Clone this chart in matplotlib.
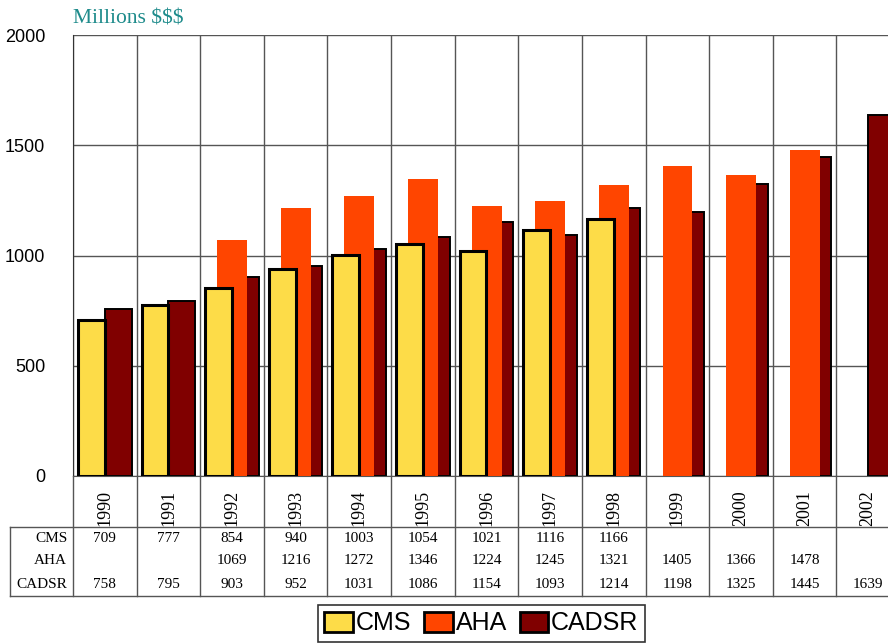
import matplotlib.pyplot as plt
from matplotlib.patches import Patch
import numpy as np

years = ['1990', '1991', '1992', '1993', '1994', '1995', '1996',
         '1997', '1998', '1999', '2000', '2001', '2002']
cms = [709, 777, 854, 940, 1003, 1054, 1021, 1116, 1166, None, None, None, None]
aha = [None, None, 1069, 1216, 1272, 1346, 1224, 1245, 1321, 1405, 1366, 1478, None]
cadsr = [758, 795, 903, 952, 1031, 1086, 1154, 1093, 1214, 1198, 1325, 1445, 1639]
series_names = ['CMS', 'AHA', 'CADSR']
colors = ['#FDDC48', '#FF4500', '#800000']

W, H = 888, 643
fig = plt.figure(figsize=(W / 100, H / 100), dpi=100)
ax = fig.add_axes([73 / W, 1 - 476 / H, 827 / W, 441 / H])

def bars(vals, left, width, color, lw, z):
    xs = [i + left for i, v in enumerate(vals) if v is not None]
    hs = [v for v in vals if v is not None]
    ax.bar(xs, hs, width=width, align='edge', color=color,
           edgecolor='black' if lw else color, linewidth=lw, zorder=z)

# back to front: CADSR, AHA, CMS
bars(cadsr, 0.50, 0.42, colors[2], 1.4, 2)
bars(aha, 0.267, 0.47, colors[1], 0, 3)
bars(cms, 0.078, 0.42, colors[0], 2.2, 4)

ax.set_xlim(0, 13)
ax.set_ylim(0, 2000)
ax.set_yticks([0, 500, 1000, 1500, 2000])
ax.set_yticklabels(['0', '500', '1000', '1500', '2000'],
                   fontsize=13, family='Liberation Sans')
ax.tick_params(axis='y', length=0, pad=20)
ax.set_xticks(np.arange(13) + 0.5)
ax.set_xticklabels(years, rotation=90, fontsize=13, family='Liberation Serif')
ax.set_xticks(np.arange(14), minor=True)
ax.tick_params(axis='x', which='both', length=0, pad=10)
ax.grid(axis='y', color='#555555', linewidth=1, zorder=0)
ax.grid(axis='x', which='minor', color='#555555', linewidth=1, zorder=0)
ax.set_axisbelow(True)
for s in ['top', 'right']:
    ax.spines[s].set_visible(False)
ax.spines['left'].set_color('#333333')
ax.spines['bottom'].set_color('#555555')

ax.text(0, (476 - 24) / 441, 'Millions $$$', transform=ax.transAxes,
        fontsize=15.5, family='Liberation Serif', color='#1E8B8B',
        ha='left', va='baseline')

# data table below the chart
tr = ax.get_xaxis_transform()
def yax(p):
    return (476 - p) / 441

x_left = (10 - 73) / 63.6
line_kw = dict(color='#555555', linewidth=1, transform=tr, clip_on=False)
for i in range(14):
    ax.plot([i, i], [0, yax(596)], **line_kw)
ax.plot([x_left, x_left], [yax(527), yax(596)], **line_kw)
ax.plot([x_left, 13], [yax(527), yax(527)], **line_kw)
ax.plot([x_left, 13], [yax(596), yax(596)], **line_kw)

row_y = [538, 561, 585]
for name, vals, ry in zip(series_names, [cms, aha, cadsr], row_y):
    ax.text(-0.09, yax(ry), name, transform=tr, ha='right', va='center',
            fontsize=11, family='Liberation Serif')
    for i, v in enumerate(vals):
        if v is not None:
            ax.text(i + 0.5, yax(ry), str(v), transform=tr, ha='center',
                    va='center', fontsize=11, family='Liberation Serif')

handles = [Patch(facecolor=c, edgecolor='black', linewidth=2) for c in colors]
leg = fig.legend(handles, series_names, loc='upper left',
                 bbox_to_anchor=(318 / W, 1 - 605 / H), ncol=3,
                 frameon=True, fancybox=False, edgecolor='black',
                 prop={'family': 'Liberation Sans', 'size': 18},
                 handlelength=1.15, handleheight=0.85, handletextpad=0.12,
                 columnspacing=0.5, borderpad=0.25, borderaxespad=0)
leg.get_frame().set_linewidth(1.2)

plt.savefig('out.png', dpi=100)
